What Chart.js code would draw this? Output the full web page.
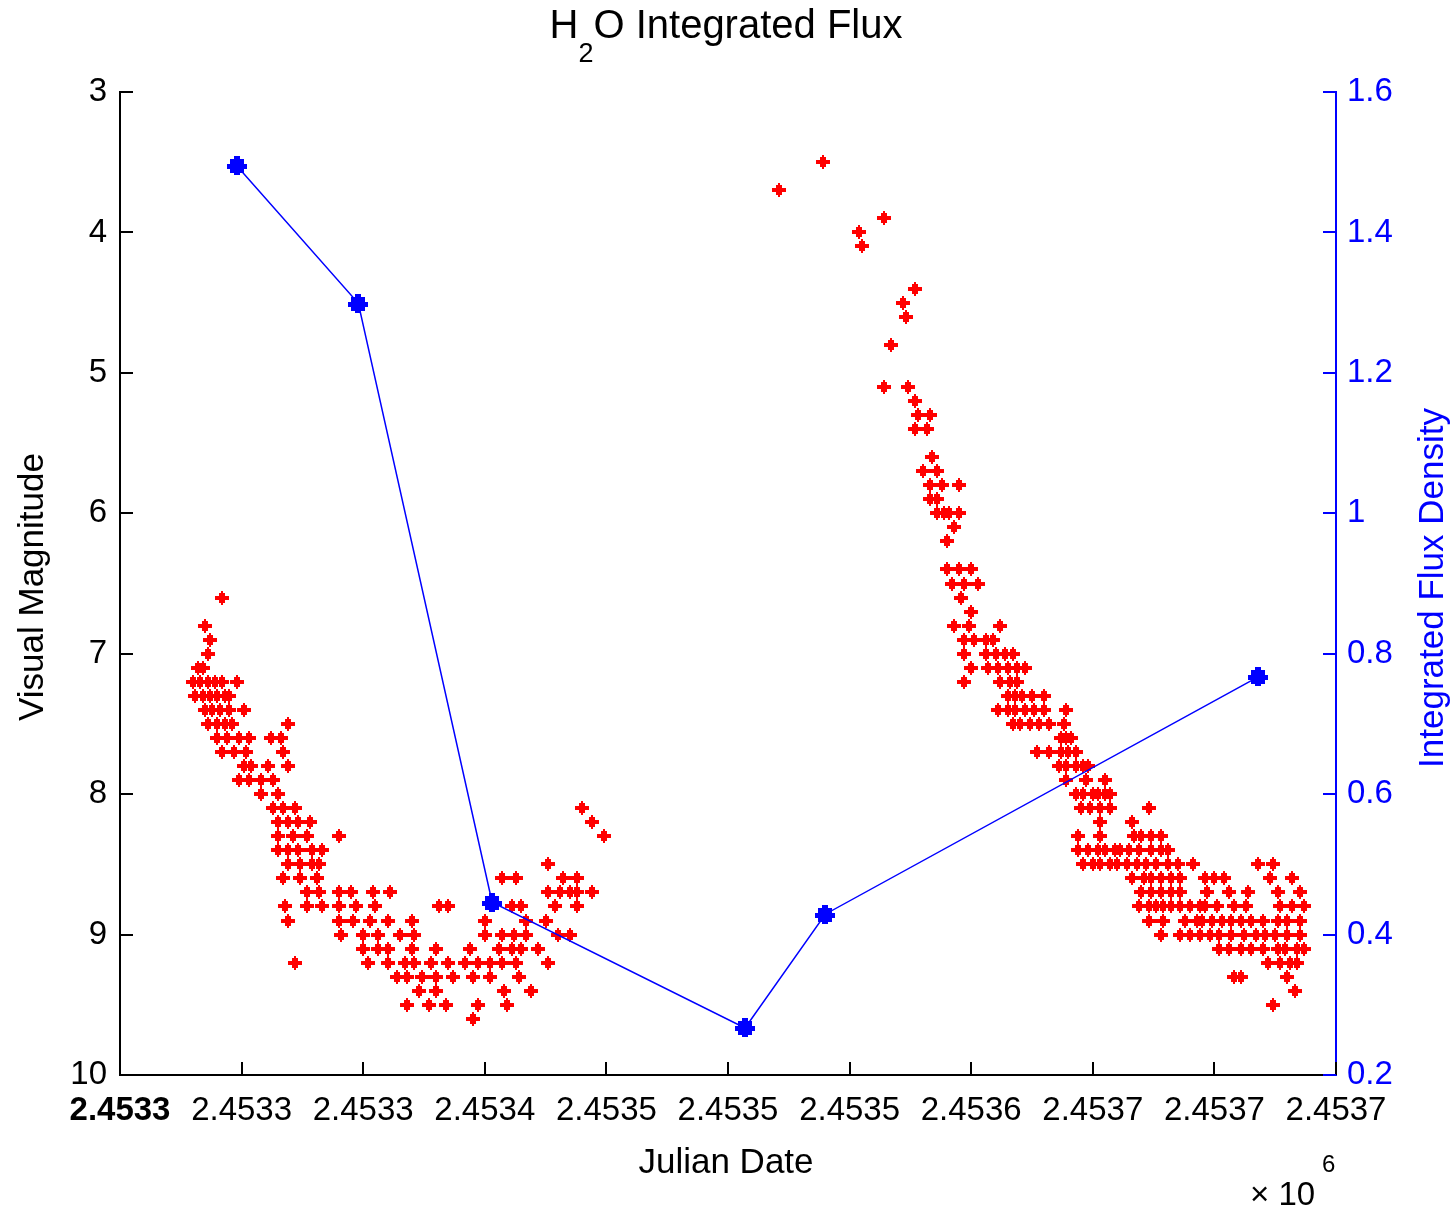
<!DOCTYPE html>
<html>
<head>
<meta charset="utf-8">
<title>H2O Integrated Flux</title>
<script src="https://cdn.jsdelivr.net/npm/chart.js@4.4.0/dist/chart.umd.min.js"></script>
<style>
  html, body { margin: 0; padding: 0; background: #fff; }
  canvas { display: block; }
</style>
</head>
<body>
<canvas id="fluxChart" width="1454" height="1208"></canvas>
<script>
// ======================
// Data (x values are Julian Date - 2453000)
// ======================
const xTickLabels = ['2.4533', '2.4533', '2.4533', '2.4534', '2.4535', '2.4535',
                     '2.4535', '2.4536', '2.4537', '2.4537', '2.4537'];

// integrated H2O flux density (right axis)
const fluxDays   = [298, 348, 403, 507, 540, 718];
const fluxValues = [1.495, 1.299, 0.446, 0.267, 0.429, 0.767];

// visual magnitude estimates (left axis), grouped by magnitude
const magLevels = [3.5, 3.7, 3.9, 4.0, 4.1, 4.4, 4.5, 4.6, 4.8, 5.1, 5.2, 5.3, 5.4, 5.6, 5.7, 5.8, 5.9,
                   6.0, 6.1, 6.2, 6.4, 6.5, 6.6, 6.7, 6.8, 6.9, 7.0, 7.1, 7.2, 7.3, 7.4, 7.5, 7.6, 7.7,
                   7.8, 7.9, 8.0, 8.1, 8.2, 8.3, 8.4, 8.5, 8.6, 8.7, 8.8, 8.9, 9.0, 9.1, 9.2, 9.3, 9.4,
                   9.5, 9.6];
const magDays = [
  [539], [521], [564], [554], [555], [577], [572], [573], [567],
  [564, 574], [577], [578, 583], [577, 582], [584], [580, 586],
  [583, 588, 595], [583, 586], [586, 589, 591, 595], [593], [590],
  [590, 595, 600], [592, 597, 603], [292, 596], [600],
  [285, 593, 599, 612],
  [287, 597, 601, 606, 609],
  [286, 597, 606, 610, 614, 617],
  [282, 284, 600, 607, 611, 615, 619, 622],
  [280, 283, 286, 289, 292, 298, 597, 612, 616, 619],
  [281, 284, 287, 290, 293, 295, 615, 618, 621, 625, 630],
  [285, 288, 291, 295, 301, 611, 615, 618, 622, 626, 630, 639],
  [286, 290, 293, 296, 319, 617, 620, 624, 628, 632, 638],
  [290, 294, 299, 303, 312, 316, 637, 639, 641],
  [292, 297, 302, 317, 627, 632, 637, 640, 643],
  [301, 304, 311, 319, 636, 639, 643, 646, 648],
  [299, 303, 308, 313, 639, 647, 655],
  [308, 315, 643, 646, 650, 652, 655, 657],
  [313, 317, 322, 440, 645, 649, 653, 657, 673],
  [315, 319, 323, 328, 444, 653, 666],
  [315, 321, 327, 340, 449, 644, 653, 667, 670, 674, 678],
  [315, 319, 323, 329, 333, 644, 648, 652, 655, 659, 661, 665, 669, 674, 678, 681],
  [319, 324, 329, 332, 426, 646, 650, 653, 657, 660, 664, 668, 672, 676, 681, 685, 691, 718, 724],
  [317, 324, 331, 407, 413, 432, 438, 666, 671, 674, 678, 682, 686, 696, 700, 704, 723, 732],
  [327, 332, 340, 345, 354, 361, 426, 431, 435, 438, 444, 670, 674, 678, 682, 686, 697, 706, 714, 726, 735],
  [318, 327, 333, 340, 347, 355, 381, 385, 411, 415, 429, 438, 669, 673, 676, 679, 682, 686, 690, 694,
   696, 701, 708, 713, 727, 732, 737],
  [319, 340, 346, 353, 360, 370, 400, 417, 425, 673, 679, 688, 693, 695, 699, 703, 707, 711, 715, 720,
   726, 730, 735],
  [341, 350, 356, 365, 371, 400, 407, 412, 417, 430, 435, 678, 686, 690, 694, 698, 702, 707, 712, 717,
   721, 725, 730, 735],
  [350, 356, 360, 370, 380, 394, 406, 411, 415, 422, 702, 706, 711, 715, 720, 726, 729, 734, 737],
  [322, 352, 360, 367, 371, 378, 385, 392, 397, 402, 407, 413, 426, 722, 727, 731, 734],
  [364, 368, 374, 380, 387, 395, 402, 414, 708, 711, 730],
  [373, 380, 408, 419, 733],
  [368, 377, 384, 397, 409, 724],
  [395]
];

// ======================
// Style
// ======================
const FONT = '"Liberation Sans", Arial, Helvetica, sans-serif';
const RED = '#ff0000';
const BLUE = '#0000ff';
const TICK = 13;

function makeMarker(w, h, color, rects) {
  const c = document.createElement('canvas');
  c.width = w;
  c.height = h;
  const g = c.getContext('2d');
  g.fillStyle = color;
  rects.forEach(r => g.fillRect(r[0], r[1], r[2], r[3]));
  return c;
}
const redMarker = makeMarker(14, 14, RED,
  [[6, 0, 2, 3], [4, 2, 6, 3], [0, 5, 14, 4], [4, 9, 6, 3], [6, 11, 2, 3]]);
const blueMarker = makeMarker(20, 19, BLUE,
  [[7, 0, 6, 3], [3, 3, 14, 5], [0, 8, 20, 5], [3, 13, 14, 4], [7, 17, 6, 2]]);

const visualPoints = [];
magLevels.forEach((m, i) => magDays[i].forEach(d => visualPoints.push({ x: d, y: m })));
const fluxPoints = fluxDays.map((d, i) => ({ x: d, y: fluxValues[i] }));

// ======================
// Inward ticks + titles
// ======================
const axisDecor = {
  id: 'axisDecor',
  beforeDatasetsDraw(chart) {
    chart.ctx.imageSmoothingEnabled = false;
  },
  afterDraw(chart) {
    const { ctx, chartArea: a, scales } = chart;
    ctx.save();
    ctx.lineWidth = 2;
    ctx.strokeStyle = '#000';
    ctx.beginPath();
    scales.x.ticks.forEach(t => {
      const px = Math.round(scales.x.getPixelForValue(t.value));
      ctx.moveTo(px, a.bottom);
      ctx.lineTo(px, a.bottom - TICK);
    });
    scales.y.ticks.forEach(t => {
      const py = Math.round(scales.y.getPixelForValue(t.value));
      ctx.moveTo(a.left, py);
      ctx.lineTo(a.left + TICK, py);
    });
    ctx.stroke();
    ctx.strokeStyle = BLUE;
    ctx.beginPath();
    scales.y1.ticks.forEach(t => {
      const py = Math.round(scales.y1.getPixelForValue(t.value));
      ctx.moveTo(a.right, py);
      ctx.lineTo(a.right - TICK, py);
    });
    ctx.stroke();

    // title with subscript
    ctx.fillStyle = '#000';
    ctx.textBaseline = 'alphabetic';
    ctx.textAlign = 'left';
    const big = '40px ' + FONT, sub = '27px ' + FONT;
    ctx.font = big;
    const wH = ctx.measureText('H').width;
    const wRest = ctx.measureText('O Integrated Flux').width;
    ctx.font = sub;
    const w2 = ctx.measureText('2').width;
    let tx = 726 - (wH + w2 + wRest) / 2;
    ctx.font = big;
    ctx.fillText('H', tx, 38);
    tx += wH;
    ctx.font = sub;
    ctx.fillText('2', tx, 62);
    tx += w2;
    ctx.font = big;
    ctx.fillText('O Integrated Flux', tx, 38);

    // axis titles
    ctx.font = '35px ' + FONT;
    ctx.textAlign = 'center';
    ctx.textBaseline = 'middle';
    ctx.fillText('Julian Date', 726, 1163);
    ctx.save();
    ctx.translate(33, 587);
    ctx.rotate(-Math.PI / 2);
    ctx.fillText('Visual Magnitude', 0, 0);
    ctx.restore();
    ctx.save();
    ctx.fillStyle = BLUE;
    ctx.translate(1433, 588);
    ctx.rotate(-Math.PI / 2);
    ctx.fillText('Integrated Flux Density', 0, 0);
    ctx.restore();

    // x10^6 multiplier
    ctx.textAlign = 'left';
    ctx.textBaseline = 'alphabetic';
    ctx.font = '33px ' + FONT;
    ctx.fillText('\u00d7 10', 1250, 1205);
    ctx.font = '24px ' + FONT;
    ctx.fillText('6', 1322, 1172);
    ctx.restore();
  }
};

// ======================
// Chart
// ======================
const ctx = document.getElementById('fluxChart').getContext('2d');
const fluxChart = new Chart(ctx, {
  type: 'scatter',
  data: {
    datasets: [
      {
        label: 'Integrated Flux Density',
        data: fluxPoints,
        yAxisID: 'y1',
        showLine: true,
        borderColor: BLUE,
        borderWidth: 1.5,
        pointStyle: blueMarker,
        pointRadius: 9,
        order: 0
      },
      {
        label: 'Visual Magnitude',
        data: visualPoints,
        yAxisID: 'y',
        pointStyle: redMarker,
        pointRadius: 7,
        order: 1
      }
    ]
  },
  options: {
    responsive: false,
    animation: false,
    devicePixelRatio: 1,
    events: [],
    layout: { padding: { top: 92, left: 0, right: 0, bottom: 0 } },
    plugins: {
      legend: { display: false },
      tooltip: { enabled: false },
      title: { display: false }
    },
    scales: {
      x: {
        type: 'linear',
        min: 250,
        max: 750,
        afterFit: s => { s.height = 133; },
        grid: { display: false, drawTicks: false },
        border: { display: true, color: '#000', width: 2 },
        ticks: {
          stepSize: 50,
          autoSkip: false,
          maxRotation: 0,
          padding: 16,
          color: '#000',
          font: c => ({ family: FONT, size: 33, weight: c.index === 0 ? 'bold' : 'normal' }),
          callback: (v, i) => xTickLabels[i]
        }
      },
      y: {
        position: 'left',
        reverse: true,
        min: 3,
        max: 10,
        afterFit: s => { s.width = 120; },
        grid: { display: false, drawTicks: false },
        border: { display: true, color: '#000', width: 2 },
        ticks: {
          stepSize: 1,
          padding: 13,
          color: '#000',
          font: { family: FONT, size: 33 }
        }
      },
      y1: {
        position: 'right',
        min: 0.2,
        max: 1.6,
        afterFit: s => { s.width = 118; },
        grid: { display: false, drawTicks: false },
        border: { display: true, color: BLUE, width: 2 },
        ticks: {
          stepSize: 0.2,
          padding: 11,
          color: BLUE,
          font: { family: FONT, size: 33 },
          callback: v => String(Math.round(v * 10) / 10)
        }
      }
    }
  },
  plugins: [axisDecor]
});
</script>
</body>
</html>
